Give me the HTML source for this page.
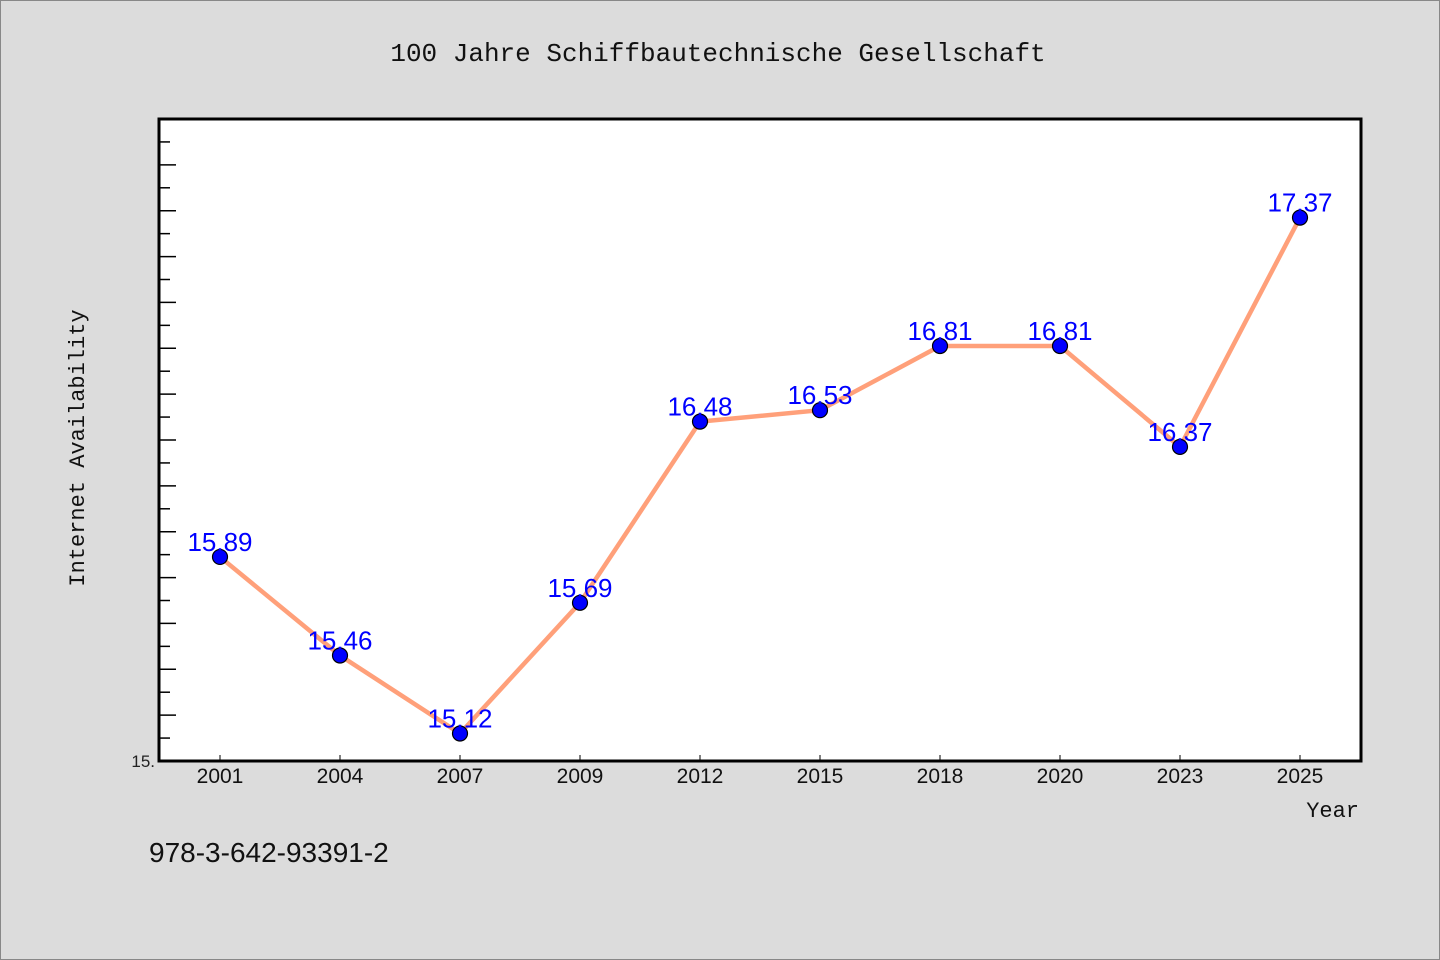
<!DOCTYPE html>
<html><head><meta charset="utf-8"><style>
html,body{margin:0;padding:0;background:#dcdcdc;}
svg{display:block;font-family:"Liberation Sans",sans-serif;}
</style></head><body>
<svg id="chart" width="1440" height="960" viewBox="0 0 1440 960" xmlns="http://www.w3.org/2000/svg">
<rect x="0.5" y="0.5" width="1439" height="959" fill="#dcdcdc" stroke="#888"/>
<text x="718" y="61" text-anchor="middle" font-family="Liberation Mono, monospace" font-size="26" fill="#111">100 Jahre Schiffbautechnische Gesellschaft</text>
<rect x="159" y="119" width="1202" height="642" fill="#fff" stroke="#000" stroke-width="3"/>
<g id="yticks"></g>
<g id="xticks"></g>
<g id="series"></g>
<text x="155" y="767" text-anchor="end" font-size="17" fill="#222">15.</text>
<text transform="translate(84,448) rotate(-90)" text-anchor="middle" font-family="Liberation Mono, monospace" font-size="22" fill="#111">Internet Availability</text>
<text x="1359" y="817" text-anchor="end" font-family="Liberation Mono, monospace" font-size="22" fill="#111">Year</text>
<text x="149" y="862" font-family="WenQuanYi Zen Hei, sans-serif" font-size="28" fill="#111">978-3-642-93391-2</text>
</svg>
<script>
const categories = ["2001","2004","2007","2009","2012","2015","2018","2020","2023","2025"];
const values = [15.89,15.46,15.12,15.69,16.48,16.53,16.81,16.81,16.37,17.37];
const labels = ["15.89","15.46","15.12","15.69","16.48","16.53","16.81","16.81","16.37","17.37"];
const yMin = 15, yMax = 17.8;
const NS = "http://www.w3.org/2000/svg";
const pLeft=159, pRight=1361, pTop=119, pBottom=761;
function yScale(v){ return pBottom - (v - yMin) / (yMax - yMin) * (pBottom - pTop); }
function xScale(i){ return 220 + i * 120; }
function mk(tag, attrs, parent){ const e=document.createElementNS(NS,tag); for(const k in attrs) e.setAttribute(k,attrs[k]); parent.appendChild(e); return e; }
const yt=document.getElementById('yticks');
for(let k=1;k<100;k++){
  const v=yMin+k*0.1; const y=yScale(v); if(y<pTop+5) break;
  const len = k%2===0 ? 17 : 11;
  const t=mk('line',{x1:pLeft,x2:pLeft+len,y1:y,y2:y,stroke:'#000','stroke-width':1.5},yt);
  
  
}
const xt=document.getElementById('xticks');
categories.forEach((c,i)=>{
  const x=xScale(i);
  const t=mk('line',{x1:x,x2:x,y1:pBottom,y2:pBottom-6,stroke:'#000','stroke-width':1},xt);
  
  
  const l=mk('text',{x:x,y:783,'text-anchor':'middle','font-size':21,'font-family':'WenQuanYi Zen Hei, sans-serif',fill:'#111'},xt);
  l.textContent=c;
  
  
});
const s=document.getElementById('series');
const pts=values.map((v,i)=>xScale(i)+','+yScale(v)).join(' ');
const line=mk('polyline',{points:pts,fill:'none',stroke:'#ffa07a','stroke-width':4.5,'stroke-linejoin':'round'},s);


values.forEach((v,i)=>{
  const c=mk('circle',{cx:xScale(i),cy:yScale(v),r:7.5,fill:'#0000ff',stroke:'#000','stroke-width':1.2},s);
  
  
});
values.forEach((v,i)=>{
  const t=mk('text',{x:xScale(i),y:yScale(v)-6,'text-anchor':'middle','font-size':26,fill:'#0000ff'},s);
  t.textContent=labels[i];
  
  
});
</script>
</body></html>
